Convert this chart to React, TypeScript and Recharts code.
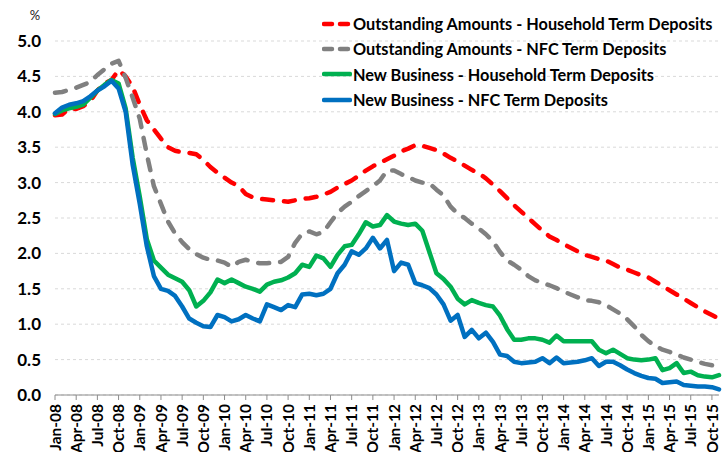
import { LineChart, Line, XAxis, YAxis, CartesianGrid, Legend } from 'recharts';

// month labels Jan-08 .. Nov-15
const MONTHS = ['Jan', 'Feb', 'Mar', 'Apr', 'May', 'Jun', 'Jul', 'Aug', 'Sep', 'Oct', 'Nov', 'Dec'];
const YEARS = ['08', '09', '10', '11', '12', '13', '14', '15'];
const categories: string[] = [];
YEARS.forEach((y) => MONTHS.forEach((m) => categories.push(`${m}-${y}`)));
categories.length = 95;

const oaHousehold = [
  3.95, 3.96, 4.05, 4.04, 4.08, 4.15, 4.30, 4.40, 4.45, 4.59,
  4.50, 4.35, 4.10, 3.88, 3.75, 3.62, 3.50, 3.45, 3.43, 3.42,
  3.40, 3.32, 3.22, 3.14, 3.07, 3.00, 2.95, 2.84, 2.79, 2.77,
  2.76, 2.75, 2.74, 2.73, 2.75, 2.77, 2.78, 2.80, 2.83, 2.87,
  2.93, 2.98, 3.03, 3.10, 3.17, 3.23, 3.28, 3.33, 3.38, 3.44,
  3.48, 3.53, 3.52, 3.49, 3.46, 3.41, 3.35, 3.30, 3.24, 3.18,
  3.13, 3.06, 2.97, 2.88, 2.78, 2.68, 2.59, 2.50, 2.41, 2.32,
  2.24, 2.19, 2.13, 2.08, 2.03, 1.98, 1.95, 1.92, 1.90, 1.85,
  1.80, 1.77, 1.73, 1.69, 1.66, 1.60, 1.54, 1.48, 1.42, 1.36,
  1.30, 1.24, 1.18, 1.13, 1.08,
];

const oaNfc = [
  4.27, 4.28, 4.31, 4.34, 4.38, 4.42, 4.52, 4.60, 4.68, 4.72,
  4.48, 4.20, 3.90, 3.40, 2.95, 2.70, 2.45, 2.28, 2.16, 2.06,
  1.99, 1.94, 1.91, 1.90, 1.87, 1.81, 1.88, 1.91, 1.88, 1.86,
  1.86, 1.87, 1.88, 1.95, 2.15, 2.28, 2.31, 2.27, 2.30, 2.44,
  2.57, 2.66, 2.73, 2.81, 2.88, 2.95, 3.03, 3.17, 3.17, 3.12,
  3.08, 3.03, 3.00, 2.99, 2.90, 2.82, 2.66, 2.56, 2.50, 2.42,
  2.35, 2.27, 2.17, 2.02, 1.90, 1.84, 1.77, 1.68, 1.62, 1.58,
  1.55, 1.51, 1.46, 1.42, 1.38, 1.34, 1.33, 1.31, 1.27, 1.21,
  1.15, 1.07, 0.97, 0.85, 0.76, 0.69, 0.64, 0.61, 0.57, 0.53,
  0.50, 0.47, 0.44, 0.42, 0.40,
];

const nbHousehold = [
  3.97, 4.02, 4.05, 4.07, 4.10, 4.20, 4.30, 4.38, 4.45, 4.40,
  4.05, 3.35, 2.80, 2.20, 1.90, 1.80, 1.70, 1.65, 1.60, 1.48,
  1.25, 1.33, 1.45, 1.63, 1.58, 1.63, 1.58, 1.53, 1.50, 1.46,
  1.56, 1.60, 1.62, 1.66, 1.72, 1.84, 1.81, 1.97, 1.93, 1.81,
  1.98, 2.10, 2.12, 2.27, 2.44, 2.38, 2.40, 2.54, 2.45, 2.42,
  2.40, 2.42, 2.32, 2.02, 1.72, 1.64, 1.53, 1.36, 1.28, 1.34,
  1.30, 1.27, 1.25, 1.12, 0.93, 0.78, 0.78, 0.80, 0.80, 0.78,
  0.74, 0.84, 0.76, 0.76, 0.76, 0.76, 0.76, 0.64, 0.59, 0.64,
  0.58, 0.52, 0.50, 0.49, 0.50, 0.52, 0.35, 0.38, 0.45, 0.31,
  0.33, 0.28, 0.26, 0.25, 0.28,
];

const nbNfc = [
  3.98, 4.06, 4.10, 4.12, 4.15, 4.22, 4.30, 4.36, 4.44, 4.33,
  4.00, 3.25, 2.70, 2.10, 1.68, 1.50, 1.47, 1.40, 1.25, 1.08,
  1.02, 0.97, 0.96, 1.13, 1.10, 1.04, 1.07, 1.13, 1.08, 1.04,
  1.28, 1.24, 1.20, 1.27, 1.24, 1.42, 1.43, 1.41, 1.43, 1.50,
  1.72, 1.84, 2.03, 1.98, 2.07, 2.22, 2.07, 2.19, 1.75, 1.87,
  1.84, 1.58, 1.55, 1.51, 1.42, 1.28, 1.05, 1.13, 0.82, 0.92,
  0.80, 0.88, 0.75, 0.57, 0.55, 0.47, 0.45, 0.46, 0.47, 0.52,
  0.45, 0.53, 0.45, 0.46, 0.47, 0.49, 0.52, 0.41, 0.47, 0.47,
  0.42, 0.36, 0.31, 0.27, 0.24, 0.23, 0.17, 0.18, 0.19, 0.14,
  0.13, 0.12, 0.12, 0.11, 0.08,
];

const yTicks = [0, 0.5, 1, 1.5, 2, 2.5, 3, 3.5, 4, 4.5, 5];

const series = [
  { key: 'oaHousehold', name: 'Outstanding Amounts - Household Term Deposits', color: '#FF0000', dashed: true },
  { key: 'oaNfc', name: 'Outstanding Amounts - NFC Term Deposits', color: '#808080', dashed: true },
  { key: 'nbHousehold', name: 'New Business - Household Term Deposits', color: '#00B050', dashed: false },
  { key: 'nbNfc', name: 'New Business - NFC Term Deposits', color: '#0070C0', dashed: false },
];

const data = categories.map((month, i) => ({
  month,
  oaHousehold: oaHousehold[i],
  oaNfc: oaNfc[i],
  nbHousehold: nbHousehold[i],
  nbNfc: nbNfc[i],
}));

const FONT = 'Lato, "Open Sans", sans-serif';

const MonthTick = ({ x, y, payload }: any) => (
  <text
    x={x}
    y={y}
    dy="0.36em"
    transform={`rotate(-90 ${x} ${y})`}
    textAnchor="end"
    fontSize={15.5}
    fontWeight={700}
    fontFamily={FONT}
    fill="#000"
  >
    {payload.value}
  </text>
);

const LegendBox = () => (
  <div style={{ fontFamily: FONT, fontWeight: 700, fontSize: 16.3, color: '#000' }}>
    {series.map((s) => (
      <div key={s.key} style={{ display: 'flex', alignItems: 'center', height: 25.3 }}>
        <svg width={30} height={10} style={{ marginRight: 1 }}>
          <line
            x1={2}
            y1={5}
            x2={28}
            y2={5}
            stroke={s.color}
            strokeWidth={4.5}
            strokeLinecap="round"
            strokeDasharray={s.dashed ? '8 8' : undefined}
          />
        </svg>
        <span style={{ whiteSpace: 'nowrap' }}>{s.name}</span>
      </div>
    ))}
  </div>
);

export default function App() {
  return (
    <div style={{ position: 'absolute', left: 0, top: 0, width: 727, height: 452, overflow: 'hidden', background: '#fff' }}>
      <LineChart width={727} height={452} data={data} margin={{ top: 41, right: 8, bottom: 0, left: 0 }}>
        <CartesianGrid vertical={false} stroke="#d9d9d9" strokeDasharray="3 3" />
        <XAxis
          dataKey="month"
          interval={2}
          height={57}
          tick={<MonthTick />}
          tickSize={5}
          tickMargin={4}
          axisLine={{ stroke: '#8c8c8c' }}
          tickLine={{ stroke: '#8c8c8c' }}
        />
        <YAxis
          width={55}
          domain={[0, 5]}
          ticks={yTicks}
          axisLine={false}
          tickLine={false}
          tickMargin={8}
          tickFormatter={(v: number) => v.toFixed(1)}
          tick={{ fontSize: 17, fontWeight: 700, fill: '#000', fontFamily: FONT }}
          label={{
            content: ({ viewBox }: any) => (
              <text x={viewBox.x + 35} y={viewBox.y - 21} textAnchor="middle" fontSize={13} fontFamily={FONT} fill="#222">
                %
              </text>
            ),
          }}
        />
        <Legend
          layout="vertical"
          align="center"
          verticalAlign="middle"
          content={<LegendBox />}
          wrapperStyle={{ top: 11, left: 322, width: 405 }}
        />
        {series.map((s) => (
          <Line
            key={s.key}
            dataKey={s.key}
            name={s.name}
            stroke={s.color}
            strokeWidth={4.5}
            strokeDasharray={s.dashed ? '11 11' : undefined}
            strokeLinecap="round"
            strokeLinejoin="round"
            dot={false}
            isAnimationActive={false}
          />
        ))}
      </LineChart>
    </div>
  );
}
